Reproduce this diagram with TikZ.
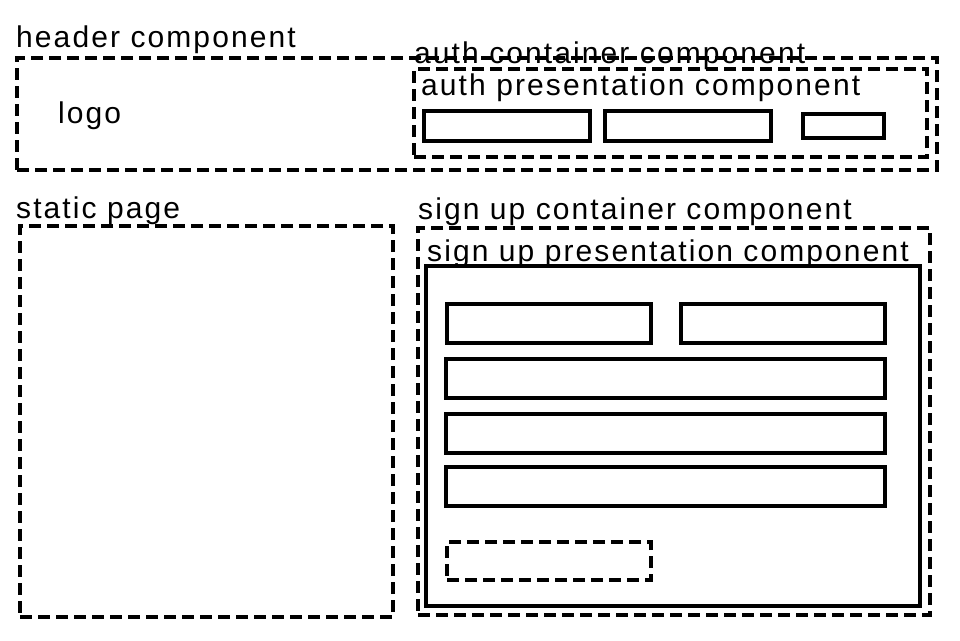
\documentclass[tikz,border=0pt]{standalone}
\usepackage{fontspec}
\setmainfont{Liberation Sans}[LetterSpace=7]
\usepackage{tikz}
\tikzset{wire/.style = {draw, line width=3.2pt, outer sep=0pt, inner sep=0pt, anchor=north west}}
\tikzset{slot/.style = {wire, dash pattern=on 12pt off 6pt}}
\tikzset{field/.style = {wire}}
\tikzset{tag/.style = {anchor=base west, inner sep=0pt, font=\fontsize{30}{34}\selectfont}}

\begin{document}
\begin{tikzpicture}[x=1pt, y=-1pt]
  \useasboundingbox (0,0) rectangle (960,640);

  % header
  \node [slot, minimum width=920, minimum height=112] (header) at (17,58) {};
  \node [tag] (headerlbl) at (16,47) {header component};
  \node [tag] (logo) at (58,123) {logo};
  \node [slot, minimum width=513, minimum height=88] (authc) at (414,69) {};
  \node [tag] (authclbl) at (414,63) {auth container component};
  \node [tag] (authplbl) at (421,95) {auth presentation component};
  \node [field, minimum width=166, minimum height=30] (user) at (424,111) {};
  \node [field, minimum width=166, minimum height=30] (pass) at (605,111) {};
  \node [field, minimum width=81, minimum height=24] (login) at (803,114) {};

  % static page
  \node [slot, minimum width=373, minimum height=391] (static) at (20,226) {};
  \node [tag] (staticlbl) at (16,218) {static page};

  % sign up
  \node [slot, minimum width=512, minimum height=387] (signc) at (418,228) {};
  \node [tag] (signclbl) at (418,219) {sign up container component};
  \node [field, minimum width=494, minimum height=340] (signp) at (426,266) {};
  \node [tag] (signplbl) at (427,261) {sign up presentation component};
  \node [field, minimum width=204, minimum height=39] (first) at (447,304) {};
  \node [field, minimum width=204, minimum height=39] (last) at (681,304) {};
  \node [field, minimum width=439, minimum height=39] (mail) at (446,359) {};
  \node [field, minimum width=439, minimum height=39] (pw) at (446,414) {};
  \node [field, minimum width=439, minimum height=39] (pwtwo) at (446,467) {};
  \node [slot, minimum width=204, minimum height=38] (submit) at (447,542) {};
\end{tikzpicture}
\end{document}
